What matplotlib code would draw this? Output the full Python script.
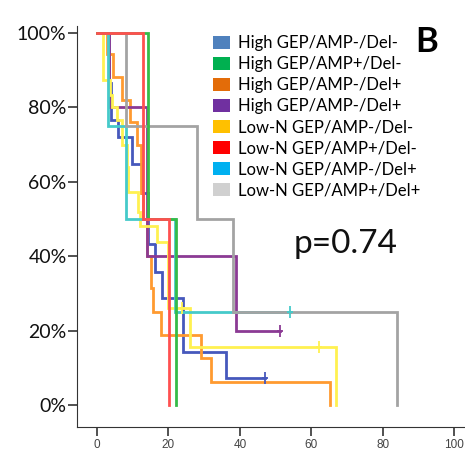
import matplotlib
matplotlib.use("Agg")
import matplotlib.pyplot as plt
from matplotlib.patches import Patch

# survival steps (months, percent)
blue_t = [0, 3.3, 3.8, 4.0, 5.8, 9.9, 12.5, 14.3, 16.3, 18.1, 24.2, 36.1, 47.0]
blue_s = [100, 86.5, 80.6, 76.5, 72.0, 64.8, 57.0, 43.2, 35.8, 28.8, 14.3, 7.3, 7.3]
blue_cens = [47.0]

green_t = [0, 14.2, 22.0]
green_s = [100, 50, 0]
green_cens = []

orange_t = [0, 2.7, 4.5, 7.0, 9.2, 11.2, 12.2, 12.8, 13.9, 15.0, 15.7, 18.0, 29.2, 32.0, 65.1]
orange_s = [100, 94.3, 88.2, 82.0, 76.2, 70.0, 57.0, 50.0, 40.0, 31.4, 25.0, 18.8, 12.6, 6.3, 0]
orange_cens = []

purple_t = [0, 3.4, 13.9, 38.9, 51.3]
purple_s = [100, 80, 40, 20, 20]
purple_cens = [51.3]

yellow_t = [0, 1.6, 3.5, 4.2, 5.7, 6.9, 8.4, 8.8, 11.4, 12.0, 16.8, 19.8, 26.1, 67.0]
yellow_s = [100, 87.4, 83.3, 80.0, 76.6, 70.0, 64.0, 57.3, 52.0, 48.0, 43.8, 26.0, 15.6, 0]
yellow_cens = [23.7, 62.0]

red_t = [0, 12.8, 20.2]
red_s = [100, 50, 0]
red_cens = []

cyan_t = [0, 3.2, 8.1, 21.8, 54.0]
cyan_s = [100, 75, 50, 25, 25]
cyan_cens = [54.0]

gray_t = [0, 8.1, 28.0, 38.1, 84.0]
gray_s = [100, 75, 50, 25, 0]
gray_cens = []

labels = ["High GEP/AMP-/Del-", "High GEP/AMP+/Del-", "High GEP/AMP-/Del+",
          "High GEP/AMP-/Del+", "Low-N GEP/AMP-/Del-", "Low-N GEP/AMP+/Del-",
          "Low-N GEP/AMP-/Del+", "Low-N GEP/AMP+/Del+"]
patch_colors = ["#4F81BD", "#00B050", "#E36C09", "#7030A0",
                "#FFC000", "#FF0000", "#00B0F0", "#D0D0D0"]

curves = [
    (blue_t, blue_s, blue_cens, "#4658BC"),
    (orange_t, orange_s, orange_cens, "#FF9A30"),
    (purple_t, purple_s, purple_cens, "#8B3A94"),
    (yellow_t, yellow_s, yellow_cens, "#FFF150"),
    (cyan_t, cyan_s, cyan_cens, "#45CACA"),
    (gray_t, gray_s, gray_cens, "#A3A3A3"),
    (green_t, green_s, green_cens, "#35BB48"),
    (red_t, red_s, red_cens, "#FF5050"),
]

font = "Lato"

fig = plt.figure(figsize=(4.65, 4.55), dpi=100)
ax = fig.add_axes([77 / 465, 28 / 455, 388 / 465, 401.5 / 455])

for t, s, cens, col in curves:
    ax.step(t, s, where="post", color=col, lw=2.0, solid_joinstyle="miter")
for t, s, cens, col in curves:
    for c in cens:
        # survival level at censor time
        lvl = [sv for tv, sv in zip(t, s) if tv <= c][-1]
        ax.plot(c, lvl, marker="|", ms=8, mew=1.3, color=col, zorder=5)
        ax.plot(c, lvl, marker="_", ms=4, mew=1.3, color=col, zorder=5)

ax.set_xlim(-5.6, 103)
ax.set_ylim(-5.9, 102)
ax.spines["top"].set_visible(False)
ax.spines["right"].set_visible(False)
ax.spines["left"].set_color("#333333")
ax.spines["bottom"].set_color("#333333")

ax.set_yticks([0, 20, 40, 60, 80, 100])
ax.set_yticklabels(["0%", "20%", "40%", "60%", "80%", "100%"],
                   fontsize=14, family=font, color="#111111")
ax.set_xticks([0, 20, 40, 60, 80, 100])
ax.set_xticklabels(["0", "20", "40", "60", "80", "100"],
                   fontsize=8.5, family="Liberation Sans", color="#444444")
ax.tick_params(axis="both", direction="out", length=6.5, width=1.2, color="#333333")
ax.tick_params(axis="y", pad=1)
ax.tick_params(axis="x", pad=2)

handles = [Patch(facecolor=c, edgecolor="none") for c in patch_colors]
ax.legend(handles, labels, loc="upper left", bbox_to_anchor=(205 / 465, 1 - 27 / 455),
          bbox_transform=fig.transFigure, frameon=False, handlelength=1.0,
          handleheight=0.8, handletextpad=0.5, labelspacing=0.3, borderpad=0,
          prop={"family": font, "size": 12})

fig.text(415 / 465, 1 - 52 / 455, "B", fontsize=25, fontweight="bold", family=font)
fig.text(346 / 465, 1 - 253 / 455, "p=0.74", fontsize=24,
         family=font, ha="center", va="baseline", color="#111111")

fig.savefig("out.png", dpi=100)
